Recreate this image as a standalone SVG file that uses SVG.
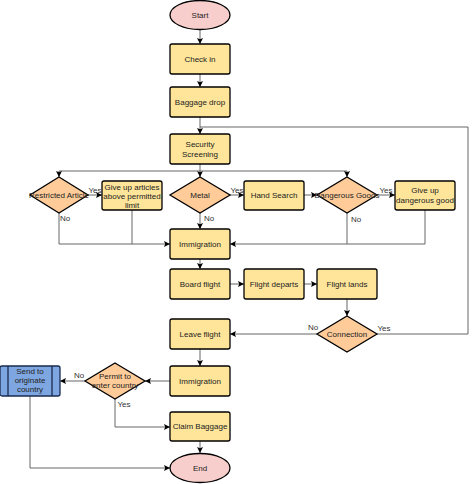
<svg xmlns="http://www.w3.org/2000/svg" width="474" height="484" viewBox="0 0 474 484">
<defs>
<marker id="arr" viewBox="0 0 10 10" refX="10" refY="5" markerWidth="6" markerHeight="6" orient="auto" markerUnits="userSpaceOnUse">
<path d="M0,0 L10,5 L0,10 L2,5 Z" fill="#000"/>
</marker>
<style>
.proc{fill:#FFE599;stroke:#000;stroke-width:1.3}
.dec{fill:#FFCC99;stroke:#000;stroke-width:1.3}
.term{fill:#F8CECC;stroke:#000;stroke-width:1.3}
.pre{fill:#7EA6E0;stroke:#1A2B50;stroke-width:1.3}
.c{fill:none;stroke:#666;stroke-width:1}
.ca{fill:none;stroke:#666;stroke-width:1;marker-end:url(#arr)}
text{font-family:"Liberation Sans",Arial,sans-serif;font-size:8px;fill:#222;text-anchor:middle}
.lbl{fill:#333}
</style>
</defs>
<rect width="474" height="484" fill="#fff"/>
<g id="connectors">
<path class="ca" d="M200,30 V44"/>
<path class="ca" d="M200,74 V87"/>
<path class="ca" d="M200,117 V134"/>
<path class="ca" d="M200,164 V177"/>
<path class="ca" d="M200,171 H59 V177"/>
<path class="ca" d="M200,171 H347 V177"/>
<path class="ca" d="M88,195 H102"/>
<path class="ca" d="M230,195 H244"/>
<path class="ca" d="M304,195 H317"/>
<path class="ca" d="M377,195 H395"/>
<path class="ca" d="M59,213 V244 H170"/>
<path class="c" d="M132,210 V244"/>
<path class="ca" d="M200,213 V229"/>
<path class="c" d="M347,213 V244"/>
<path class="ca" d="M425,210 V244 H230"/>
<path class="ca" d="M200,259 V269"/>
<path class="ca" d="M230,284 H244"/>
<path class="ca" d="M304,284 H317"/>
<path class="ca" d="M347,299 V316"/>
<path class="ca" d="M317,334 H230"/>
<path class="c" d="M377,334 H468 V127 H200"/>
<path class="ca" d="M200,349 V366"/>
<path class="ca" d="M170,381 H145"/>
<path class="ca" d="M85,381 H60"/>
<path class="ca" d="M115,399 V427 H170"/>
<path class="ca" d="M200,441 V453"/>
<path class="ca" d="M30,396 V468 H170"/>
<text class="lbl" x="95" y="193">Yes</text>
<text class="lbl" x="65" y="221">No</text>
<text class="lbl" x="237" y="193">Yes</text>
<text class="lbl" x="209" y="221">No</text>
<text class="lbl" x="356" y="222">No</text>
<text class="lbl" x="386" y="193">Yes</text>
<text class="lbl" x="313" y="330">No</text>
<text class="lbl" x="384" y="331">Yes</text>
<text class="lbl" x="79" y="378">No</text>
<text class="lbl" x="124" y="407">Yes</text>
</g>
<g id="start"><ellipse class="term" cx="200" cy="15" rx="30" ry="14.5"/><text x="200" y="18">Start</text></g>
<g id="checkin"><rect class="proc" x="170" y="44" width="60" height="30" rx="2"/><text x="200" y="62">Check in</text></g>
<g id="baggagedrop"><rect class="proc" x="170" y="87" width="60" height="30" rx="2"/><text x="200" y="105">Baggage drop</text></g>
<g id="security"><rect class="proc" x="170" y="134" width="60" height="30" rx="2"/><text x="200" y="147">Security</text><text x="200" y="157">Screening</text></g>
<g id="restricted"><path class="dec" d="M59,177 L88,195 L59,213 L30,195 Z"/><text x="59" y="198">Restricted Article</text></g>
<g id="giveuparticles"><rect class="proc" x="102" y="181" width="60" height="29" rx="2"/><text x="132" y="190">Give up articles</text><text x="132" y="199">above permitted</text><text x="132" y="208">limit</text></g>
<g id="metal"><path class="dec" d="M200,177 L230,195 L200,213 L170,195 Z"/><text x="200" y="198">Metal</text></g>
<g id="handsearch"><rect class="proc" x="244" y="181" width="60" height="29" rx="2"/><text x="274" y="198">Hand Search</text></g>
<g id="dangerous"><path class="dec" d="M347,177 L377,195 L347,213 L317,195 Z"/><text x="347" y="198">Dangerous Goods</text></g>
<g id="giveupdangerous"><rect class="proc" x="395" y="181" width="60" height="29" rx="2"/><text x="425" y="193">Give up</text><text x="425" y="203">dangerous good</text></g>
<g id="immigration1"><rect class="proc" x="170" y="229" width="60" height="30" rx="2"/><text x="200" y="247">Immigration</text></g>
<g id="boardflight"><rect class="proc" x="170" y="269" width="60" height="30" rx="2"/><text x="200" y="287">Board flight</text></g>
<g id="flightdeparts"><rect class="proc" x="244" y="269" width="60" height="30" rx="2"/><text x="274" y="287">Flight departs</text></g>
<g id="flightlands"><rect class="proc" x="317" y="269" width="60" height="30" rx="2"/><text x="347" y="287">Flight lands</text></g>
<g id="connection"><path class="dec" d="M347,316 L377,334 L347,352 L317,334 Z"/><text x="347" y="337">Connection</text></g>
<g id="leaveflight"><rect class="proc" x="170" y="319" width="60" height="30" rx="2"/><text x="200" y="337">Leave flight</text></g>
<g id="immigration2"><rect class="proc" x="170" y="366" width="60" height="30" rx="2"/><text x="200" y="384">Immigration</text></g>
<g id="permit"><path class="dec" d="M115,363 L145,381 L115,399 L85,381 Z"/><text x="115" y="379">Permit to</text><text x="115" y="388">enter country</text></g>
<g id="sendback"><rect class="pre" x="0" y="366" width="60" height="30" rx="2"/><line x1="8" y1="366" x2="8" y2="396" stroke="#1A2B50" stroke-width="1.3"/><line x1="52" y1="366" x2="52" y2="396" stroke="#1A2B50" stroke-width="1.3"/><text x="30" y="374">Send to</text><text x="30" y="383">originate</text><text x="30" y="392">country</text></g>
<g id="claimbaggage"><rect class="proc" x="170" y="412" width="60" height="29" rx="2"/><text x="200" y="429">Claim Baggage</text></g>
<g id="end"><ellipse class="term" cx="200" cy="468" rx="30" ry="14.5"/><text x="200" y="471">End</text></g>
</svg>
